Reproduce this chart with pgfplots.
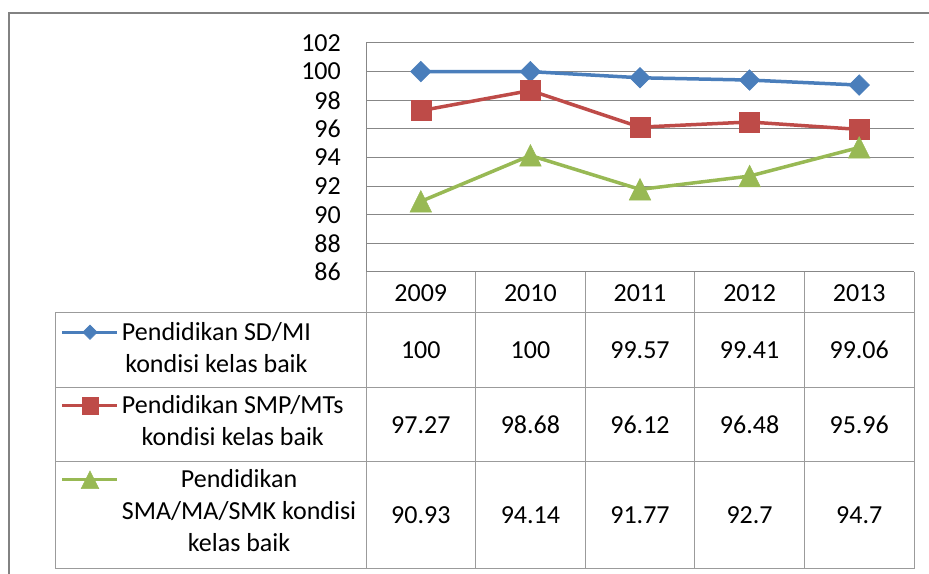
\documentclass[border=0pt]{standalone}
\usepackage{fontspec}
\setmainfont{Carlito}
\usepackage{pgfplots}
\pgfplotsset{compat=1.18,
  legend image code/.code={\draw[mark repeat=2,mark phase=2,#1] plot coordinates {(0bp,0bp) (27.5bp,0bp) (55bp,0bp)};}}
\definecolor{sdblue}{HTML}{4A7EBB}
\definecolor{smpred}{HTML}{BE4B48}
\definecolor{smagreen}{HTML}{98B954}
\definecolor{gridgray}{HTML}{878787}
\definecolor{tablegray}{HTML}{9B9B9B}
\definecolor{bordergray}{HTML}{828282}
\newcommand{\tf}{\fontsize{26bp}{32bp}\selectfont}
\begin{document}
\begin{tikzpicture}[x=1bp,y=1bp]
\useasboundingbox (0,0) rectangle (929,574);
\draw[bordergray, line width=2bp] (9,-5) -- (9,561) -- (935,561);
\begin{axis}[
  at={(366bp,302bp)}, anchor=south west,
  scale only axis, width=548bp, height=229bp,
  xmin=-0.5, xmax=4.5, ymin=86, ymax=102,
  ytick={86,88,...,102}, xtick=\empty,
  axis x line=none, axis y line*=left,
  axis line style={gridgray, line width=1bp},
  ymajorgrids, grid style={gridgray, line width=1bp},
  major tick length=0pt,
  tick label style={font=\tf},
  /pgf/number format/assume math mode=true,
  yticklabel style={anchor=east, inner sep=0pt, xshift=-25bp},
  clip=false,
  legend style={at={(-0.5566,-0.219)}, anchor=north west, draw=none, fill=none,
    inner sep=0pt, outer sep=0pt, row sep=22bp, column sep=3bp,
    cells={anchor=base west},
    nodes={inner sep=0pt, align=center, font=\tf}},
]
\addplot[sdblue, line width=3.5bp, mark=square*, mark size=7.3bp,
  mark options={solid, rotate=45, fill=sdblue, draw=sdblue, line width=0.5bp},
  legend image post style={yshift=40bp, line width=3bp, every mark/.append style={scale=0.7}}]
  coordinates {(0,100) (1,100) (2,99.57) (3,99.41) (4,99.06)};
\addlegendentry{Pendidikan SD/MI\\kondisi kelas baik}
\addplot[smpred, line width=3.5bp, mark=square*, mark size=10bp,
  mark options={solid, fill=smpred, draw=smpred, line width=0.5bp},
  legend image post style={yshift=40bp, line width=3bp, every mark/.append style={scale=0.82}}]
  coordinates {(0,97.27) (1,98.68) (2,96.12) (3,96.48) (4,95.96)};
\addlegendentry{Pendidikan SMP/MTs\\kondisi kelas baik}
\addplot[smagreen, line width=3.5bp, mark=triangle*, mark size=12.5bp,
  mark options={solid, yshift=-3.5bp, yscale=1.15, fill=smagreen, draw=smagreen, line width=0.5bp},
  legend image post style={yshift=72bp, line width=3bp, every mark/.append style={scale=0.82}}]
  coordinates {(0,90.93) (1,94.14) (2,91.77) (3,92.7) (4,94.7)};
\addlegendentry{Pendidikan\\SMA/MA/SMK kondisi\\kelas baik}
\end{axis}
% data table grid
\begin{scope}[tablegray, line width=1bp]
\foreach \yy in {261,186,112,5} {\draw (55,\yy) -- (914,\yy);}
\draw (55,261) -- (55,5);
\foreach \xx in {366,475.6,585.2,694.8,804.4,914} {\draw (\xx,302) -- (\xx,5);}
\end{scope}
% table text
\foreach \xx/\t in {420.8/2009,530.4/2010,640/2011,749.6/2012,859.2/2013}
  {\node[font=\tf, inner sep=0pt] at (\xx,281.2) {\t};}
\foreach \xx/\t in {420.8/100,530.4/100,640/99.57,749.6/99.41,859.2/99.06}
  {\node[font=\tf, inner sep=0pt] at (\xx,223.8) {\t};}
\foreach \xx/\t in {420.8/97.27,530.4/98.68,640/96.12,749.6/96.48,859.2/95.96}
  {\node[font=\tf, inner sep=0pt] at (\xx,149.2) {\t};}
\foreach \xx/\t in {420.8/90.93,530.4/94.14,640/91.77,749.6/92.7,859.2/94.7}
  {\node[font=\tf, inner sep=0pt] at (\xx,59) {\t};}
\end{tikzpicture}
\end{document}
